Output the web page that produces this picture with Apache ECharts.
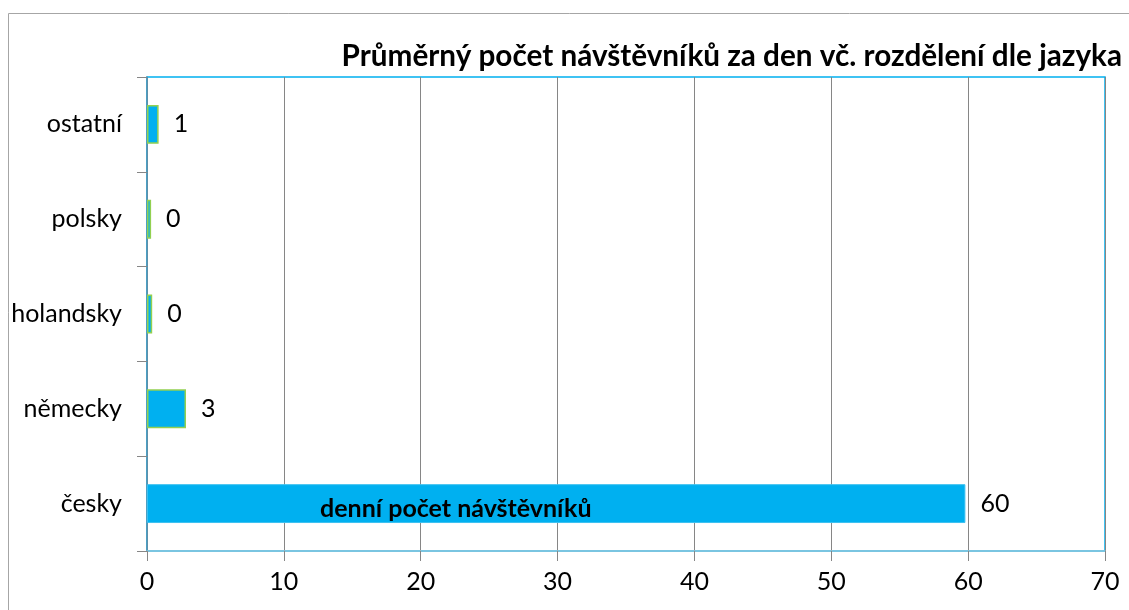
<!DOCTYPE html>
<html><head><meta charset="utf-8">
<script src="https://cdn.jsdelivr.net/npm/echarts@6/dist/echarts.min.js"></script>
<style>html,body{margin:0;padding:0;background:#fff}#c{width:1129px;height:610px}</style>
</head><body><div id="c"></div>
<script>
const categories = ['česky', 'německy', 'holandsky', 'polsky', 'ostatní'];
const values = [59.8, 2.85, 0.38, 0.3, 0.85];
const xTicks = [0, 10, 20, 30, 40, 50, 60, 70];
const titleText = 'Průměrný počet návštěvníků za den vč. rozdělení dle jazyka';
const seriesName = 'denní počet návštěvníků';

const font = 'Lato, "Noto Sans", sans-serif';
const chart = echarts.init(document.getElementById('c'));
chart.setOption({
  animation: false,
  title: {
    text: titleText, right: 2, top: 36,
    textStyle: {fontFamily: font, fontWeight: 'bold', fontSize: 29.7, color: '#000'}
  },
  grid: {left: 147, top: 77, right: 24, bottom: 59, show: true, borderColor: '#00b0f0', borderWidth: 1.5},
  xAxis: {
    type: 'value', min: xTicks[0], max: xTicks[xTicks.length - 1], interval: 10,
    axisLine: {show: true, lineStyle: {color: '#8fc6dc', width: 1.5}},
    axisTick: {show: true, length: 10, lineStyle: {color: '#868686'}},
    splitLine: {show: true, lineStyle: {color: '#868686', width: 1}},
    axisLabel: {fontFamily: font, fontSize: 25, color: '#000', margin: 18}
  },
  yAxis: {
    type: 'category', data: categories,
    axisLine: {show: true, lineStyle: {color: '#4f93b5', width: 1.5}},
    axisTick: {show: true, length: 10, lineStyle: {color: '#868686'}},
    axisLabel: {fontFamily: font, fontSize: 25, color: '#000', margin: 25}
  },
  graphic: [
    {type: 'rect', shape: {x: 8.5, y: 13.5, width: 1200, height: 700}, style: {fill: 'none', stroke: '#a6a6a6', lineWidth: 1}, silent: true, z: -1},
    {type: 'text', left: 320, top: 496, style: {text: seriesName, fontFamily: font, fontWeight: 'bold', fontSize: 25, fill: '#000'}, z: 100}
  ],
  series: [{
    name: seriesName, type: 'bar', barWidth: '41%',
    data: values.map((v, i) => ({value: v, itemStyle: i === 0 ? {color: '#00b0f0', borderColor: '#3cc0f0', borderWidth: 1} : {color: '#00b0f0', borderColor: '#92d050', borderWidth: 1.5}})),
    label: {show: true, position: 'right', distance: 15, formatter: p => Math.round(p.value), fontFamily: font, fontSize: 25, color: '#000'}
  }]
});
</script></body></html>
